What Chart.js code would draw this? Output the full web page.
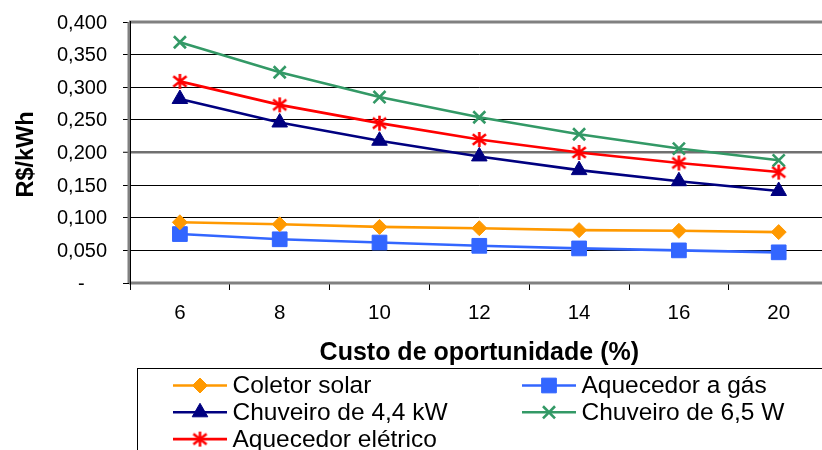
<!DOCTYPE html>
<html>
<head>
<meta charset="utf-8">
<script src="https://cdn.jsdelivr.net/npm/chart.js@4.4.1/dist/chart.umd.min.js"></script>
<style>
  html, body { margin: 0; padding: 0; background: #fff; overflow: hidden; width: 822px; height: 450px; }
  canvas { display: block; }
</style>
</head>
<body>
<canvas id="c" width="840" height="470"></canvas>
<script>
// Custo de oportunidade (%)
const categories = ['6', '8', '10', '12', '14', '16', '20'];

// R$/kWh por tecnologia
const coletorSolar      = [0.093, 0.090, 0.086, 0.084, 0.081, 0.080, 0.078];
const aquecedorGas      = [0.075, 0.067, 0.062, 0.057, 0.053, 0.050, 0.047];
const chuveiro44        = [0.282, 0.246, 0.218, 0.194, 0.173, 0.156, 0.141];
const chuveiro65        = [0.369, 0.323, 0.285, 0.254, 0.228, 0.206, 0.188];
const aquecedorEletrico = [0.309, 0.273, 0.245, 0.220, 0.200, 0.184, 0.170];

const yTickLabels = ['-    ', '0,050', '0,100', '0,150', '0,200', '0,250', '0,300', '0,350', '0,400'];

const xTitle = 'Custo de oportunidade (%)';
const yTitle = 'R$/kWh';

const FONT = "'Liberation Sans', Arial, sans-serif";

function drawText(ctx, text, x, y, size, opts) {
  opts = opts || {};
  ctx.save();
  ctx.translate(x, y);
  if (opts.rotate) ctx.rotate(-Math.PI / 2);
  ctx.font = (opts.bold ? 'bold ' : '') + size + 'px ' + FONT;
  ctx.fillStyle = '#000';
  ctx.textAlign = opts.align || 'left';
  ctx.textBaseline = 'middle';
  ctx.fillText(text, 0, 0);
  ctx.restore();
}

// asterisk marker: vertical bar plus an X
function makeAsterisk(color) {
  const s = 19, c = document.createElement('canvas');
  c.width = s; c.height = s;
  const g = c.getContext('2d');
  g.strokeStyle = color; g.lineWidth = 2.6; g.lineCap = 'butt';
  const m = s / 2, r = 7.5, dx = 6.6, dy = 5.2;
  g.beginPath();
  g.moveTo(m, m - r); g.lineTo(m, m + r);
  g.moveTo(m - dx, m - dy); g.lineTo(m + dx, m + dy);
  g.moveTo(m + dx, m - dy); g.lineTo(m - dx, m + dy);
  g.stroke();
  return c;
}

function series(label, data, color, style, radius, extra) {
  return Object.assign({
    label, data,
    borderColor: color, backgroundColor: color,
    pointBackgroundColor: color, pointBorderColor: color,
    borderWidth: 2.6, pointStyle: style, pointRadius: radius,
    pointHoverRadius: radius, pointBorderWidth: 1,
    tension: 0, fill: false
  }, extra || {});
}

const datasets = [
  series('Coletor solar', coletorSolar, '#FF9900', 'rectRot', 7.5),
  series('Aquecedor a gás', aquecedorGas, '#3366FF', 'rect', 10.4),
  series('Chuveiro de 4,4 kW', chuveiro44, '#000080', 'triangle', 9),
  series('Chuveiro de 6,5 W', chuveiro65, '#339966', 'crossRot', 8.5, { pointBorderWidth: 2.6 }),
  series('Aquecedor elétrico', aquecedorEletrico, '#FF0000', makeAsterisk('#FF0000'), 8)
];

// gray plot frame drawn over the grid
const plotFrame = {
  id: 'plotFrame',
  beforeDatasetsDraw(chart) {
    const { ctx, chartArea: a } = chart;
    ctx.save();
    ctx.strokeStyle = '#808080';
    ctx.lineWidth = 3;
    ctx.beginPath();
    ctx.moveTo(a.right + 5, a.top); ctx.lineTo(a.left - 1, a.top);
    ctx.moveTo(a.left - 1, a.top); ctx.lineTo(a.left - 1, a.bottom);
    ctx.moveTo(a.left - 1, a.bottom); ctx.lineTo(a.right + 5, a.bottom);
    ctx.stroke();
    ctx.strokeStyle = '#000';
    ctx.lineWidth = 1;
    ctx.beginPath();
    ctx.moveTo(a.left + 0.5, a.top - 1); ctx.lineTo(a.left + 0.5, a.bottom + 2);
    ctx.stroke();
    ctx.restore();
  }
};

// tick labels and axis titles
const axisText = {
  id: 'axisText',
  afterDraw(chart) {
    const ctx = chart.ctx;
    const xs = chart.scales.x, ys = chart.scales.y, a = chart.chartArea;
    ys.ticks.forEach((t, i) => {
      drawText(ctx, yTickLabels[i], a.left - 23, ys.getPixelForTick(i) + 1, 20, { align: 'right' });
    });
    xs.ticks.forEach((t, i) => {
      drawText(ctx, categories[i], xs.getPixelForTick(i), a.bottom + 30, 20.5, { align: 'center' });
    });
    drawText(ctx, xTitle, (a.left + a.right) / 2, a.bottom + 70, 25, { align: 'center', bold: true });
    drawText(ctx, yTitle, 27, (a.top + a.bottom) / 2 + 2, 23.5, { align: 'center', bold: true, rotate: true });
  }
};

// boxed legend, two columns
const boxLegend = {
  id: 'boxLegend',
  afterDraw(chart) {
    const ctx = chart.ctx;
    ctx.save();
    ctx.strokeStyle = '#000';
    ctx.lineWidth = 1;
    ctx.strokeRect(137.5, 368.5, 800, 200);
    chart.data.datasets.forEach((ds, i) => {
      const col = i % 2, row = Math.floor(i / 2);
      const x0 = col === 0 ? 173 : 522;
      const y = 385.5 + row * 26.8;
      ctx.strokeStyle = ds.borderColor;
      ctx.fillStyle = ds.borderColor;
      ctx.lineWidth = 2.6;
      ctx.beginPath();
      ctx.moveTo(x0, y); ctx.lineTo(x0 + 54, y);
      ctx.stroke();
      ctx.lineWidth = ds.pointBorderWidth;
      Chart.helpers.drawPoint(ctx, {
        pointStyle: ds.pointStyle, radius: ds.pointRadius,
        borderWidth: ds.pointBorderWidth, rotation: 0
      }, x0 + 27, y);
      drawText(ctx, ds.label, x0 + 59.5, y + 1, 24.5);
    });
    ctx.restore();
  }
};

new Chart(document.getElementById('c'), {
  type: 'line',
  data: { labels: categories, datasets },
  plugins: [plotFrame, axisText, boxLegend],
  options: {
    responsive: false,
    animation: false,
    layout: { padding: { left: 0, top: 22, right: 10, bottom: 101 } },
    plugins: { legend: { display: false }, tooltip: { enabled: false } },
    scales: {
      x: {
        type: 'category',
        offset: true,
        grid: {
          offset: true, drawOnChartArea: false, drawTicks: true,
          tickLength: 7, tickColor: '#000', tickWidth: 1
        },
        border: { display: false },
        ticks: { display: false, autoSkip: false },
        afterFit(scale) { scale.height = 86; }
      },
      y: {
        min: 0, max: 0.4,
        ticks: { display: false, stepSize: 0.05 },
        grid: {
          color: ctx => (ctx.index === 4 ? '#707070' : '#000'),
          lineWidth: ctx => (ctx.index === 4 ? 2.5 : 1),
          tickColor: '#000', tickWidth: 1, tickLength: 7
        },
        border: { display: false },
        afterFit(scale) { scale.width = 130; }
      }
    }
  }
});
</script>
</body>
</html>
